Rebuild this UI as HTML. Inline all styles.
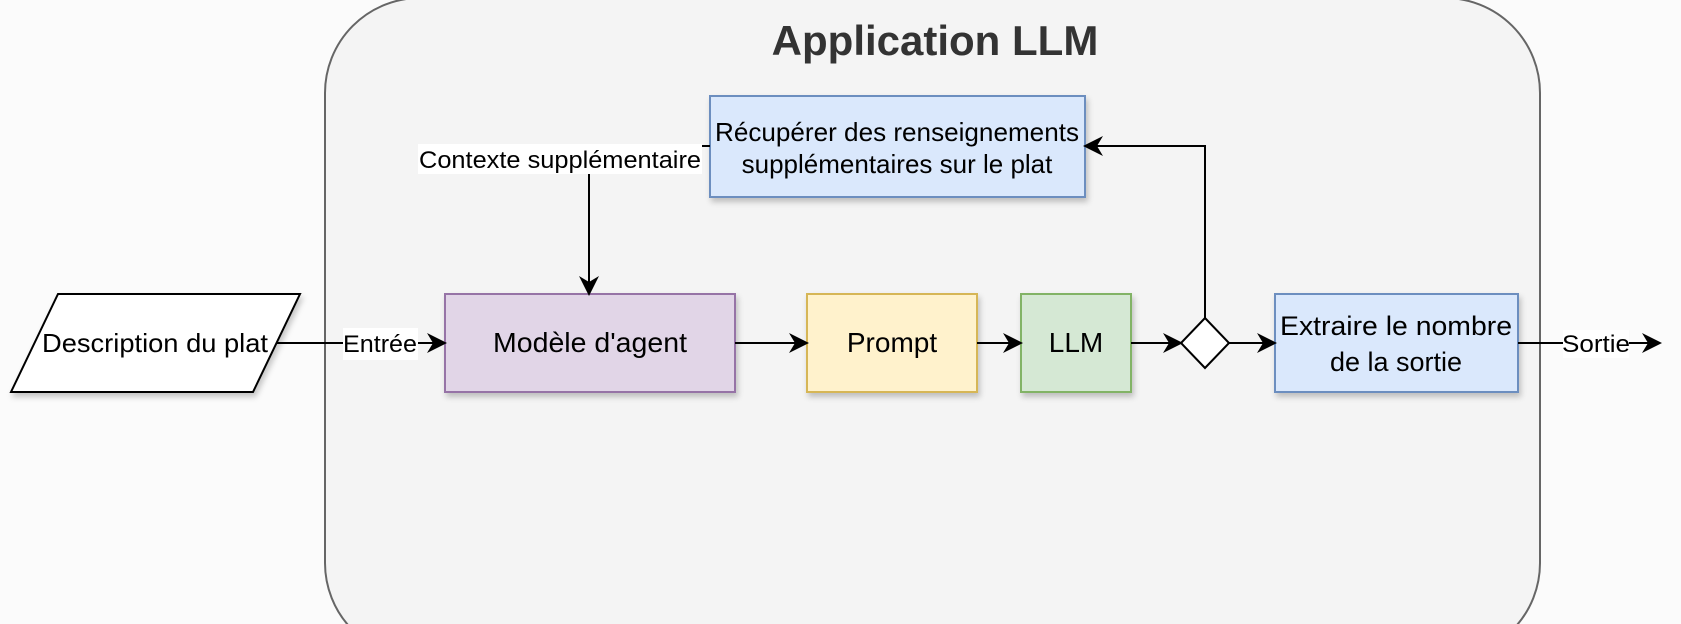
<!DOCTYPE html>
<html><head><meta charset="utf-8"><style>
html,body{margin:0;padding:0;background:#fbfbfb;width:1681px;height:624px;overflow:hidden;}
svg{display:block;font-family:"Liberation Sans",sans-serif;}
</style></head><body>
<svg width="1681" height="624" viewBox="0 0 1681 624" xmlns="http://www.w3.org/2000/svg">
<defs>
<filter id="sh" x="-10%" y="-10%" width="130%" height="140%"><feDropShadow dx="2" dy="4" stdDeviation="3" flood-color="#000" flood-opacity="0.22"/></filter>
<marker id="ar" viewBox="0 0 10 10" refX="9" refY="5" markerWidth="20" markerHeight="20" markerUnits="userSpaceOnUse" orient="auto"><path d="M0,0 L10,5 L0,10 L3,5 z" fill="#000"/></marker>
</defs>
<rect x="325" y="-2" width="1215" height="660" rx="95" ry="95" fill="#f4f4f4" stroke="#666" stroke-width="2"/>
<text x="935" y="55" text-anchor="middle" font-size="42" font-weight="bold" fill="#333">Application LLM</text>

<polygon points="58,294 300,294 253,392 11,392" fill="#fff" stroke="#000" stroke-width="2" filter="url(#sh)"/>
<text x="155" y="352" text-anchor="middle" font-size="26" textLength="226" lengthAdjust="spacingAndGlyphs">Description du plat</text>

<rect x="710" y="96" width="375" height="101" fill="#dae8fc" stroke="#6c8ebf" stroke-width="2" filter="url(#sh)"/>
<text x="897" y="141" text-anchor="middle" font-size="26" textLength="364" lengthAdjust="spacingAndGlyphs">Récupérer des renseignements</text>
<text x="897" y="173" text-anchor="middle" font-size="26">supplémentaires sur le plat</text>

<rect x="445" y="294" width="290" height="98" fill="#e1d5e7" stroke="#9673a6" stroke-width="2" filter="url(#sh)"/>
<text x="590" y="352" text-anchor="middle" font-size="28" textLength="194" lengthAdjust="spacingAndGlyphs">Modèle d'agent</text>

<rect x="807" y="294" width="170" height="98" fill="#fff2cc" stroke="#d6b656" stroke-width="2" filter="url(#sh)"/>
<text x="892" y="352" text-anchor="middle" font-size="28">Prompt</text>

<rect x="1021" y="294" width="110" height="98" fill="#d5e8d4" stroke="#82b366" stroke-width="2" filter="url(#sh)"/>
<text x="1076" y="352" text-anchor="middle" font-size="28">LLM</text>

<polygon points="1205,318 1229,343 1205,368 1181,343" fill="#fff" stroke="#000" stroke-width="2"/>

<rect x="1275" y="294" width="243" height="98" fill="#dae8fc" stroke="#6c8ebf" stroke-width="2" filter="url(#sh)"/>
<text x="1396" y="335" text-anchor="middle" font-size="27" textLength="232" lengthAdjust="spacingAndGlyphs">Extraire le nombre</text>
<text x="1396" y="371" text-anchor="middle" font-size="27">de la sortie</text>

<g stroke="#000" stroke-width="2" fill="none">
<line x1="277" y1="343" x2="445" y2="343" marker-end="url(#ar)"/>
<line x1="735" y1="343" x2="807" y2="343" marker-end="url(#ar)"/>
<line x1="977" y1="343" x2="1021" y2="343" marker-end="url(#ar)"/>
<line x1="1131" y1="343" x2="1181" y2="343" marker-end="url(#ar)"/>
<line x1="1229" y1="343" x2="1275" y2="343" marker-end="url(#ar)"/>
<line x1="1518" y1="343" x2="1660" y2="343" marker-end="url(#ar)"/>
<polyline points="1205,318 1205,146 1085,146" marker-end="url(#ar)"/>
<line x1="710" y1="146" x2="700" y2="146"/>
<line x1="589" y1="172" x2="589" y2="294" marker-end="url(#ar)"/>
</g>
<rect x="343" y="328" width="75" height="32" fill="#fff"/>
<text x="380" y="352" text-anchor="middle" font-size="24" textLength="74" lengthAdjust="spacingAndGlyphs">Entrée</text>
<rect x="1563" y="330" width="66" height="28" fill="#fff"/>
<text x="1596" y="352" text-anchor="middle" font-size="24" textLength="68" lengthAdjust="spacingAndGlyphs">Sortie</text>
<rect x="418" y="144" width="284" height="30" fill="#fff"/>
<text x="560" y="168" text-anchor="middle" font-size="24" textLength="282" lengthAdjust="spacingAndGlyphs">Contexte supplémentaire</text>
</svg>
</body></html>
